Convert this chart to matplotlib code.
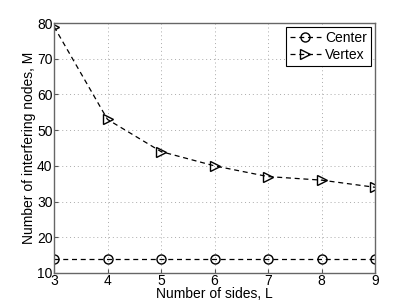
import matplotlib
matplotlib.use('Agg')
import matplotlib.pyplot as plt

sides = [3, 4, 5, 6, 7, 8, 9]
center = [14, 14, 14, 14, 14, 14, 14]
vertex = [79, 53, 44, 40, 37, 36, 34]

plt.rcParams['font.family'] = ['Liberation Sans', 'DejaVu Sans']
plt.rcParams['font.size'] = 10

fig = plt.figure(figsize=(4.15, 3.07), dpi=100)
ax = fig.add_axes([54/415, 1 - 273/307, (375-54)/415, (273-23)/307])

ax.plot(sides, center, 'k--o', mfc='none', ms=6.5, lw=0.9, dashes=(4, 3), label='Center')
ax.plot(sides, vertex, 'k-->', mfc='none', ms=6.5, lw=0.9, dashes=(4, 3), label='Vertex')

ax.set_xlim(3, 9)
ax.set_ylim(10, 80)
ax.set_xticks(sides)
ax.set_yticks(range(10, 81, 10))
ax.grid(True, linestyle=(0, (1, 3)), color='#aaaaaa', linewidth=0.7)
ax.tick_params(direction='in', length=3, pad=1, colors='#555555', labelcolor='black')
for s in ax.spines.values():
    s.set_color('#666666')
    s.set_linewidth(1.0)

ax.set_xlabel('Number of sides, L', labelpad=-1)
ax.set_ylabel('Number of interfering nodes, M', labelpad=1)

leg = ax.legend(loc='upper right', fancybox=False, edgecolor='black', framealpha=1,
                handlelength=2.2, borderpad=0.3, labelspacing=0.2, handletextpad=0.3,
                borderaxespad=0.3)
leg.get_frame().set_linewidth(0.8)

fig.savefig('out.png', dpi=100)
